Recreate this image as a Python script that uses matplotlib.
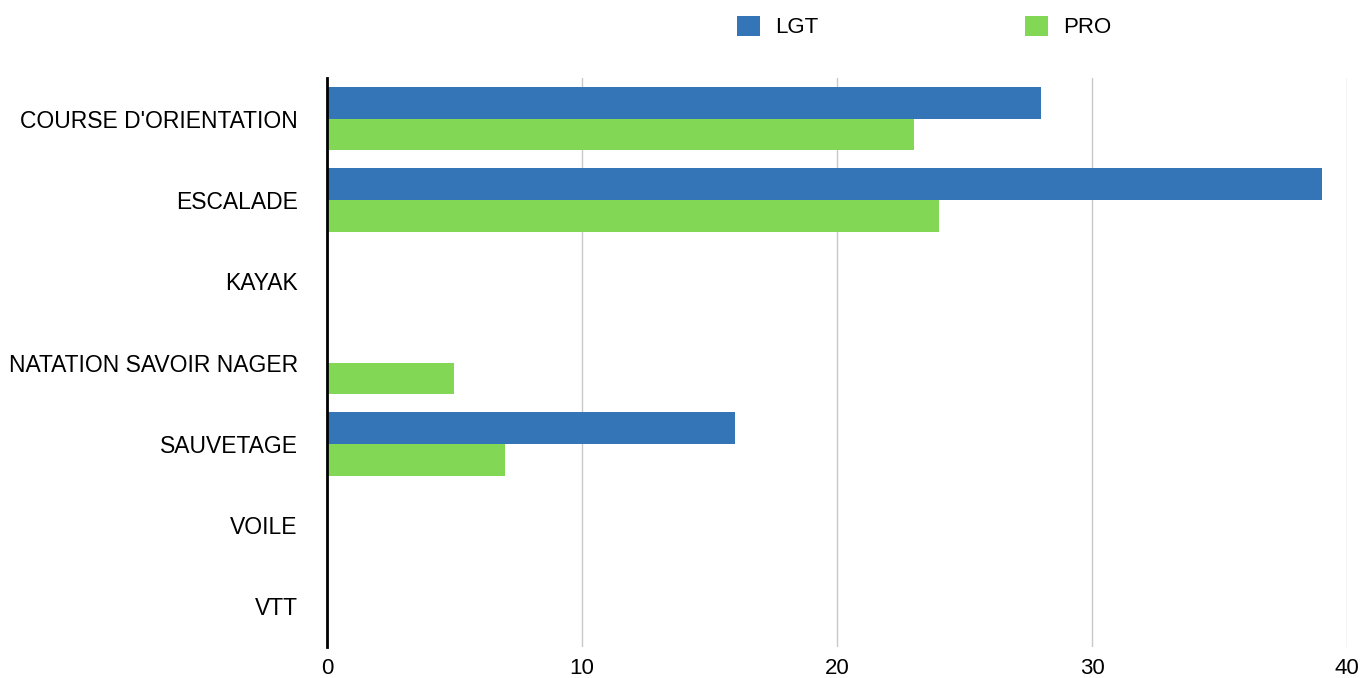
import numpy as np
import matplotlib.pyplot as plt

categories = ["COURSE D'ORIENTATION", "ESCALADE", "KAYAK", "NATATION SAVOIR NAGER",
              "SAUVETAGE", "VOILE", "VTT"]
lgt = [28, 39, 0, 0, 16, 0, 0]
pro = [23, 24, 0, 5, 7, 0, 0]

plt.rcParams['font.family'] = ['Liberation Sans', 'DejaVu Sans']

fig = plt.figure(figsize=(13.63, 6.78), dpi=100)
ax = fig.add_axes([0.2399, 0.0457, 0.7484, 0.839])

y = np.arange(len(categories))
h = 0.39
ax.barh(y - h / 2, lgt, height=h, color='#3375B7', label='LGT', zorder=3)
ax.barh(y + h / 2, pro, height=h, color='#82D855', label='PRO', zorder=3)

ax.set_xlim(0, 40)
ax.set_ylim(len(categories) - 0.5, -0.5)
ax.set_yticks(y)
ax.set_yticklabels(categories, fontsize=16.5)
ax.set_xticks([0, 10, 20, 30, 40])
ax.tick_params(axis='x', labelsize=16, length=0, pad=8)
ax.tick_params(axis='y', length=0, pad=21)
ax.grid(axis='x', color='#c8c8c8', linewidth=1, zorder=0)
for s in ['top', 'right', 'bottom']:
    ax.spines[s].set_visible(False)
ax.spines['left'].set_linewidth(2)
ax.spines['left'].set_color('black')
ax.spines['left'].set_zorder(4)

fig.legend(loc='center', bbox_to_anchor=(0.678, 0.96), ncol=2, frameon=False,
           fontsize=16, handlelength=1.05, handleheight=1.0, columnspacing=9.3,
           handletextpad=0.68)

fig.savefig('out.png', dpi=100)
